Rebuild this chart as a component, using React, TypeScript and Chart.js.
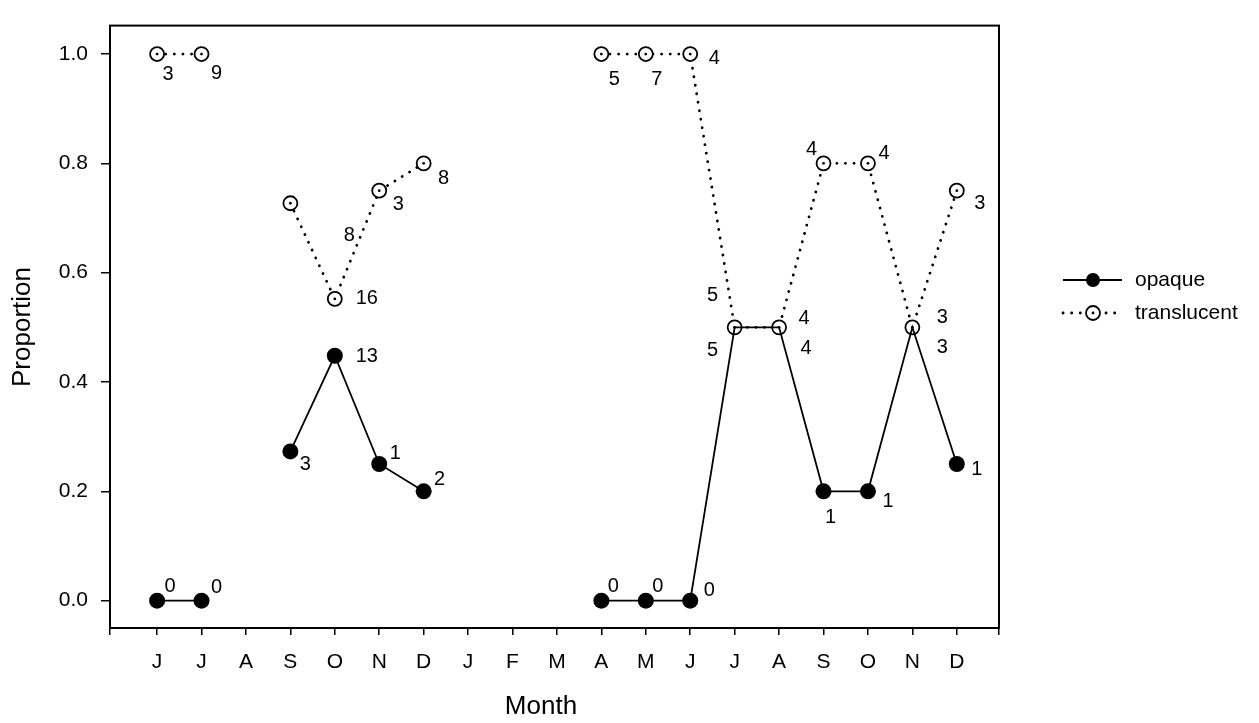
import { useEffect, useRef } from 'react';
import { Chart, registerables } from 'chart.js';

Chart.register(...registerables);

// Months along the x axis (June of one year through December of the next)
const monthLabels = ['J', 'J', 'A', 'S', 'O', 'N', 'D', 'J', 'F', 'M', 'A', 'M', 'J', 'J', 'A', 'S', 'O', 'N', 'D'];

// Proportion of each type per month (null = no sample)
const opaqueProportion = [0, 0, null, 0.273, 0.448, 0.25, 0.2, null, null, null, 0, 0, 0, 0.5, 0.5, 0.2, 0.2, 0.5, 0.25];
const translucentProportion = [1, 1, null, 0.727, 0.552, 0.75, 0.8, null, null, null, 1, 1, 1, 0.5, 0.5, 0.8, 0.8, 0.5, 0.75];

// Sample counts printed beside each point
const opaqueCounts = [0, 0, null, 3, 13, 1, 2, null, null, null, 0, 0, 0, 5, 4, 1, 1, 3, 1];
const translucentCounts = [3, 9, null, 8, 16, 3, 8, null, null, null, 5, 7, 4, 5, 4, 4, 4, 3, 3];

const yTickValues = [0, 0.2, 0.4, 0.6, 0.8, 1.0];

// Where each count label sits relative to its point, in pixels [dx, dy]
const opaqueLabelOffsets = [
  [13, -14], [15, -13], null, [15, 13], [32, 1], [16, -11], [16, -12], null, null, null,
  [12, -14], [12, -14], [19, -10], [-22, 23], [27, 21], [7, 26], [20, 10], [30, 20], [20, 5],
];
const translucentLabelOffsets = [
  [11, 20], [15, 19], null, [59, 32], [32, 0], [19, 14], [20, 15], null, null, null,
  [13, 25], [11, 25], [24, 4], [-22, -32], [25, -9], [-12, -14], [16, -10], [30, -10], [23, 13],
];

const FONT = "'Liberation Sans', Arial, Helvetica, sans-serif";

const annotate = {
  id: 'annotate',
  afterDatasetsDraw(chart: any) {
    const ctx = chart.ctx;
    const area = chart.chartArea;
    ctx.save();

    // centre dots inside the open circles
    const tMeta = chart.getDatasetMeta(1);
    ctx.fillStyle = '#000';
    tMeta.data.forEach((pt: any, i: number) => {
      if (translucentProportion[i] === null) return;
      ctx.beginPath();
      ctx.arc(pt.x, pt.y, 1.4, 0, Math.PI * 2);
      ctx.fill();
    });

    // count labels
    ctx.font = `20px ${FONT}`;
    ctx.textAlign = 'center';
    ctx.textBaseline = 'middle';
    const drawLabels = (meta: any, counts: (number | null)[], offsets: (number[] | null)[]) => {
      meta.data.forEach((pt: any, i: number) => {
        const c = counts[i];
        const off = offsets[i];
        if (c === null || !off) return;
        ctx.fillText(String(c), pt.x + off[0], pt.y + off[1]);
      });
    };
    drawLabels(chart.getDatasetMeta(0), opaqueCounts, opaqueLabelOffsets);
    drawLabels(tMeta, translucentCounts, translucentLabelOffsets);

    // plot frame
    ctx.strokeStyle = '#000';
    ctx.lineWidth = 2;
    ctx.strokeRect(area.left, area.top, area.right - area.left, area.bottom - area.top);

    // axis titles
    ctx.font = `26px ${FONT}`;
    ctx.textAlign = 'center';
    ctx.textBaseline = 'middle';
    ctx.fillText('Month', 541, 707);
    ctx.save();
    ctx.translate(23, 327);
    ctx.rotate(-Math.PI / 2);
    ctx.fillText('Proportion', 0, 0);
    ctx.restore();

    // legend
    const lx0 = 1063, lx1 = 1122, mx = 1093;
    const rows = [
      { y: 280, text: 'opaque', dotted: false },
      { y: 313, text: 'translucent', dotted: true },
    ];
    rows.forEach((r) => {
      ctx.beginPath();
      ctx.lineWidth = r.dotted ? 2.8 : 1.8;
      ctx.lineCap = r.dotted ? 'round' : 'butt';
      ctx.setLineDash(r.dotted ? [0.1, 8.5] : []);
      ctx.moveTo(lx0, r.y);
      ctx.lineTo(lx1, r.y);
      ctx.stroke();
      ctx.setLineDash([]);
      ctx.beginPath();
      if (r.dotted) {
        ctx.fillStyle = '#fff';
        ctx.arc(mx, r.y, 7, 0, Math.PI * 2);
        ctx.fill();
        ctx.lineWidth = 1.8;
        ctx.stroke();
        ctx.fillStyle = '#000';
        ctx.beginPath();
        ctx.arc(mx, r.y, 1.4, 0, Math.PI * 2);
        ctx.fill();
      } else {
        ctx.fillStyle = '#000';
        ctx.arc(mx, r.y, 7, 0, Math.PI * 2);
        ctx.fill();
      }
      ctx.font = `21px ${FONT}`;
      ctx.textAlign = 'left';
      ctx.fillStyle = '#000';
      ctx.fillText(r.text, 1135, r.y);
    });

    ctx.restore();
  },
};

export default function App() {
  const canvasRef = useRef<HTMLCanvasElement | null>(null);

  useEffect(() => {
    if (!canvasRef.current) return;
    const xMin = -1.06;
    const xMax = 18.95;
    const chart = new Chart(canvasRef.current, {
      type: 'line',
      data: {
        datasets: [
          {
            label: 'opaque',
            data: opaqueProportion.map((v, i) => ({ x: i, y: v })),
            borderColor: '#000',
            borderWidth: 1.8,
            backgroundColor: '#000',
            pointBackgroundColor: '#000',
            pointBorderColor: '#000',
            // where both types share a value only the open circle is shown
            pointRadius: (c: any) =>
              opaqueProportion[c.dataIndex] === translucentProportion[c.dataIndex] ? 0 : 8,
            pointBorderWidth: 0,
            pointHoverRadius: 8,
            spanGaps: false,
            order: 1,
          },
          {
            label: 'translucent',
            data: translucentProportion.map((v, i) => ({ x: i, y: v })),
            borderColor: '#000',
            borderWidth: 2.8,
            borderDash: [0.1, 8.5],
            borderCapStyle: 'round',
            pointBackgroundColor: '#fff',
            pointBorderColor: '#000',
            pointRadius: 7,
            pointBorderWidth: 1.8,
            pointHoverRadius: 7,
            spanGaps: false,
            order: 2,
          },
        ],
      },
      options: {
        animation: false,
        responsive: true,
        maintainAspectRatio: false,
        events: [],
        layout: { padding: { top: 14, right: 1259 - 999, left: 0, bottom: 0 } },
        plugins: { legend: { display: false }, tooltip: { enabled: false } },
        scales: {
          x: {
            type: 'linear',
            min: xMin,
            max: xMax,
            afterBuildTicks: (scale: any) => {
              scale.ticks = [{ value: xMin }, ...monthLabels.map((_, i) => ({ value: i })), { value: xMax }];
            },
            afterFit: (scale: any) => {
              scale.height = 95;
            },
            ticks: {
              autoSkip: false,
              maxRotation: 0,
              color: '#000',
              font: { family: FONT, size: 21 },
              padding: 15,
              callback: (v: any) => {
                const n = Number(v);
                return Number.isInteger(n) && n >= 0 && n < monthLabels.length ? monthLabels[n] : '';
              },
            },
            grid: { drawOnChartArea: false, drawTicks: true, tickLength: 7, color: '#000', lineWidth: 1.5 },
            border: { display: false },
          },
          y: {
            type: 'linear',
            min: -0.05,
            max: 1.052,
            afterBuildTicks: (scale: any) => {
              scale.ticks = yTickValues.map((v) => ({ value: v }));
            },
            afterFit: (scale: any) => {
              scale.width = 110;
            },
            ticks: {
              color: '#000',
              font: { family: FONT, size: 21 },
              padding: 13,
              callback: (v: any) => Number(v).toFixed(1),
            },
            grid: { drawOnChartArea: false, drawTicks: true, tickLength: 9, color: '#000', lineWidth: 1.5 },
            border: { display: false },
          },
        },
      },
      plugins: [annotate],
    } as any);
    return () => chart.destroy();
  }, []);

  return (
    <div style={{ position: 'fixed', left: 0, top: 0, width: 1259, height: 723, background: '#fff' }}>
      <canvas ref={canvasRef} />
    </div>
  );
}
